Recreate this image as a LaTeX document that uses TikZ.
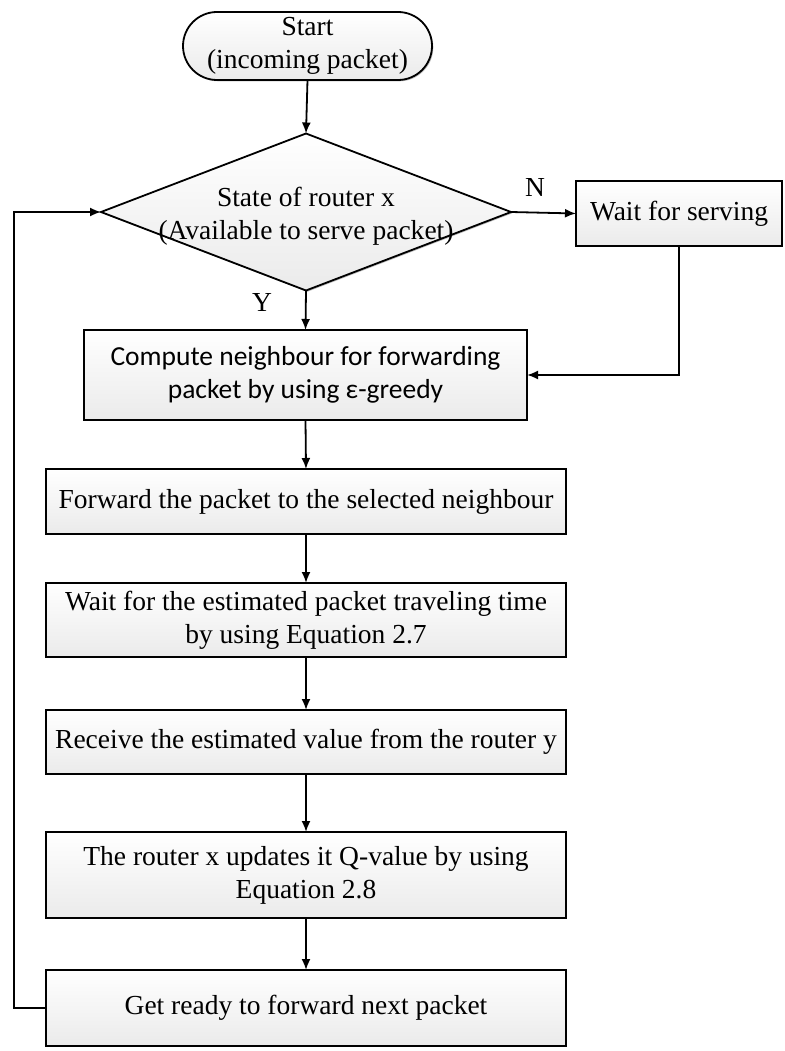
\documentclass[tikz,border=0pt]{standalone}
\usepackage{fontspec}
\setmainfont{Liberation Serif}
\newfontfamily\calibrilike{Carlito}
\usetikzlibrary{arrows.meta,shadows,shapes.geometric}

\begin{document}
\begin{tikzpicture}[x=1pt,y=-1pt,
  every node/.style={font=\fontsize{27.5pt}{33pt}\selectfont},
  conn/.style={line width=1.8pt,-{Latex[length=11pt,width=9pt]}},
  boxshade/.style={top color=white,bottom color=black!8,
    drop shadow={shadow xshift=1.3pt,shadow yshift=-1.3pt,fill=black!45,opacity=0.6}},
  procbox/.style={draw,line width=1.8pt,rectangle,inner sep=0pt,outer sep=0pt,
    align=center,boxshade},
  termbox/.style={procbox,rounded corners=34pt},
  decbox/.style={draw,line width=1.8pt,diamond,inner sep=0pt,outer sep=0pt,boxshade},
  lbl/.style={inner sep=0pt}
]
\useasboundingbox (0,0) rectangle (784,1051);

% start terminal
\node[termbox,minimum width=249pt,minimum height=68pt] (start) at (307.5,46)
  {Start\\(incoming packet)};

% decision
\node[decbox,minimum width=410pt,minimum height=157pt] (dec) at (306,212) {};
\node[lbl,align=center] (dectxt) at (306,216)
  {State of router x\\(Available to serve packet)};

% side branch
\node[procbox,minimum width=206pt,minimum height=65pt] (wait) at (679,213.5)
  {Wait for serving};

% main column
\node[procbox,minimum width=443pt,minimum height=90pt,font=\calibrilike\fontsize{27.5pt}{33pt}\selectfont]
  (comp) at (305.5,375) {Compute neighbour for forwarding\\packet by using ε-greedy};
\node[procbox,minimum width=520pt,minimum height=65pt] (fwd) at (306,501.5)
  {Forward the packet to the selected neighbour};
\node[procbox,minimum width=520pt,minimum height=74pt] (est) at (306,620)
  {Wait for the estimated packet traveling time\\by using Equation 2.7};
\node[procbox,minimum width=520pt,minimum height=64pt] (recv) at (306,742)
  {Receive the estimated value from the router y};
\node[procbox,minimum width=520pt,minimum height=86pt] (upd) at (306,875)
  {The router x updates it Q-value by using\\Equation 2.8};
\node[procbox,minimum width=520pt,minimum height=76pt] (ready) at (306,1008)
  {Get ready to forward next packet};

% branch labels
\node[lbl] (ylab) at (262,302) {Y};
\node[lbl] (nlab) at (535,187) {N};

% connectors
\coordinate (loopx) at (14,0);
\draw[conn] (start.south) -- (dec.north);
\draw[conn] (dec.south) -- (comp.north);
\draw[conn] (dec.east) -- (wait.west);
\draw[conn] (wait.south) |- (comp.east);
\draw[conn] (comp.south) -- (fwd.north);
\draw[conn] (fwd.south) -- (est.north);
\draw[conn] (est.south) -- (recv.north);
\draw[conn] (recv.south) -- (upd.north);
\draw[conn] (upd.south) -- (ready.north);
\draw[conn] (ready.west) -- (ready.west -| loopx) -- (dec.west -| loopx) -- (dec.west);
\end{tikzpicture}
\end{document}
